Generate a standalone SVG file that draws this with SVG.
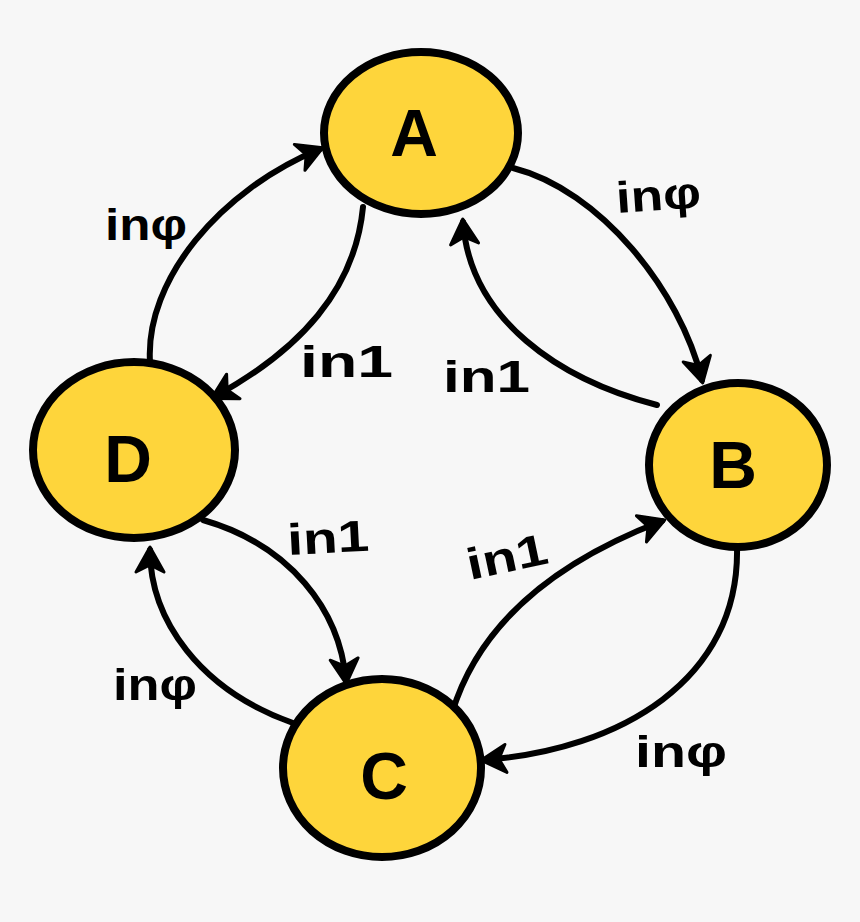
<svg xmlns="http://www.w3.org/2000/svg" width="860" height="922" viewBox="0 0 860 922">
<style>
.node{fill:#FED53B;stroke:#000;stroke-width:8;}
.nl{font-family:"Liberation Sans",Arial,sans-serif;font-weight:bold;font-size:66px;fill:#000;text-anchor:middle;}
.edge{fill:none;stroke:#000;stroke-width:6;stroke-linecap:round;marker-end:url(#ah);}
.lb{font-family:"Liberation Sans",Arial,sans-serif;font-weight:bold;font-size:44px;fill:#000;}
</style>
<defs>
<marker id="ah" markerUnits="userSpaceOnUse" markerWidth="40" markerHeight="40" refX="0" refY="0" viewBox="-30 -20 36 40" orient="auto" overflow="visible">
<path d="M3,0 L-22,-14 L-15,0 L-22,14 Z" fill="#000" stroke="#000" stroke-width="3" stroke-linejoin="round"/>
</marker>
</defs>
<rect width="860" height="922" fill="#f7f7f7"/>
<g id="connectors">
<path class="edge" d="M150,362 C145,280 220,190 320,149"/>
<path class="edge" d="M363,207 C355,290 300,350 214,397"/>
<path class="edge" d="M513,168 C600,190 680,290 702,380"/>
<path class="edge" d="M657,405 C560,380 470,320 463,222"/>
<path class="edge" d="M203,520 C290,545 340,610 346,681"/>
<path class="edge" d="M293,723 C200,690 150,620 150,550"/>
<path class="edge" d="M452,713 C480,620 560,560 662,521"/>
<path class="edge" d="M737,547 C740,680 620,750 484,760"/>
</g>
<g id="labels">
<text class="lb" x="105" y="240" textLength="82" lengthAdjust="spacingAndGlyphs">inφ</text>
<text class="lb" x="300" y="377" textLength="93" lengthAdjust="spacingAndGlyphs">in1</text>
<text class="lb" x="617" y="213" textLength="85" lengthAdjust="spacingAndGlyphs" transform="rotate(-4 617 213)">inφ</text>
<text class="lb" x="443" y="392" textLength="87" lengthAdjust="spacingAndGlyphs">in1</text>
<text class="lb" x="288" y="555" textLength="82" lengthAdjust="spacingAndGlyphs" transform="rotate(-3 288 555)">in1</text>
<text class="lb" x="113" y="700" textLength="84" lengthAdjust="spacingAndGlyphs">inφ</text>
<text class="lb" x="470" y="580" textLength="82" lengthAdjust="spacingAndGlyphs" transform="rotate(-12 470 580)">in1</text>
<text class="lb" x="635" y="767" textLength="92" lengthAdjust="spacingAndGlyphs">inφ</text>
</g>
<g id="node-A">
<ellipse class="node" cx="421" cy="133" rx="97" ry="81"/>
<text class="nl" x="414" y="156">A</text>
</g>
<g id="node-B">
<ellipse class="node" cx="738" cy="465" rx="89" ry="82"/>
<text class="nl" x="733" y="488">B</text>
</g>
<g id="node-C">
<ellipse class="node" cx="382" cy="768" rx="99" ry="89"/>
<text class="nl" x="384" y="799">C</text>
</g>
<g id="node-D">
<ellipse class="node" cx="134" cy="450" rx="101" ry="88"/>
<text class="nl" x="128" y="482">D</text>
</g>
</svg>
